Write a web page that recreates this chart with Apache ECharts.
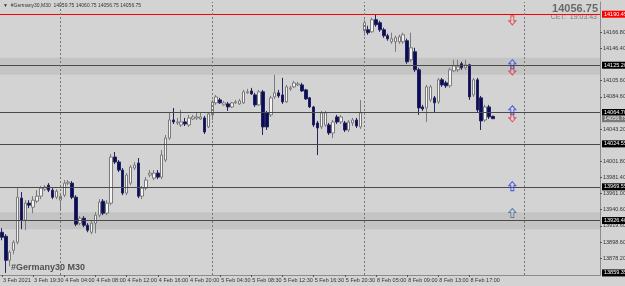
<!DOCTYPE html>
<html lang="en">
<head>
  <meta charset="UTF-8">
  <title>#Germany30,M30</title>
  <style>
    html, body {
      margin: 0;
      padding: 0;
      background-color: #d3d3d3;
    }
  </style>
  <script src="https://cdn.jsdelivr.net/npm/echarts@6.0.0/dist/echarts.min.js"></script>
</head>
<body>
<div id="chart" style="width: 625px; height: 286px;"></div>
<script>
  // M30 bars, [open, close, low, high]
  const candles = [
    [13911.4, 13905.0, 13901.2, 13916.6], [13906.3, 13875.5, 13859.35, 13908.9], [13875.5, 13885.8, 13867.8, 13888.3],
    [13888.3, 13898.6, 13883.2, 13901.2], [13898.6, 13956.3, 13896.0, 13967.9], [13955.1, 13926.8, 13915.3, 13962.8],
    [13926.8, 13948.7, 13914.0, 13952.5], [13948.7, 13946.1, 13942.2, 13952.5], [13943.5, 13952.5, 13935.8, 13957.6],
    [13951.2, 13957.6, 13948.7, 13965.3], [13957.6, 13967.9, 13953.8, 13970.5], [13966.6, 13969.2, 13964.0, 13971.7],
    [13971.7, 13965.3, 13962.8, 13974.3], [13965.3, 13956.3, 13953.8, 13967.9], [13956.3, 13964.0, 13953.8, 13966.6],
    [13952.5, 13957.6, 13939.7, 13961.5], [13958.9, 13974.3, 13956.3, 13978.2], [13974.3, 13975.6, 13971.7, 13978.2],
    [13974.3, 13956.3, 13953.8, 13976.9], [13956.3, 13921.7, 13919.1, 13958.9], [13923.0, 13929.4, 13920.4, 13932.0],
    [13929.4, 13920.4, 13917.9, 13932.0], [13920.4, 13914.0, 13911.4, 13923.0], [13911.4, 13923.0, 13908.9, 13925.6],
    [13923.0, 13933.3, 13910.2, 13937.1], [13933.3, 13949.9, 13930.7, 13953.8], [13951.2, 13935.8, 13933.3, 13953.8],
    [13935.8, 13948.7, 13933.3, 13952.5], [13948.7, 14007.7, 13946.1, 14011.5], [14007.7, 14001.3, 13998.7, 14014.1],
    [14001.3, 13991.0, 13988.4, 14003.8], [13991.0, 13961.5, 13958.9, 13993.6], [13961.5, 13984.6, 13958.9, 13987.1],
    [13974.3, 13994.8, 13971.7, 13997.4], [13993.6, 13997.4, 13991.0, 14001.3], [14000.0, 13957.6, 13955.1, 14006.4],
    [13957.6, 13967.9, 13953.8, 13970.5], [13967.9, 13978.2, 13965.3, 13982.0], [13984.6, 13987.1, 13982.0, 13991.0],
    [13980.7, 13987.1, 13978.2, 13991.0], [13987.1, 13982.0, 13979.4, 13991.0], [13982.0, 14010.2, 13979.4, 14016.6],
    [14003.8, 14032.0, 14001.3, 14035.9], [14032.0, 14055.1, 14029.5, 14065.4], [14055.1, 14052.6, 14050.0, 14070.5],
    [14051.3, 14052.6, 14048.7, 14057.7], [14048.7, 14052.6, 14046.2, 14068.0], [14052.6, 14050.0, 14047.4, 14057.7],
    [14048.7, 14057.7, 14046.2, 14061.6], [14056.4, 14059.0, 14055.1, 14061.6], [14057.7, 14059.0, 14055.1, 14065.4],
    [14056.4, 14059.0, 14055.1, 14064.1], [14057.7, 14039.7, 14037.2, 14060.3], [14046.2, 14062.8, 14044.9, 14065.4],
    [14061.6, 14078.2, 14055.1, 14080.8], [14077.0, 14084.6, 14074.4, 14087.2], [14080.8, 14077.0, 14075.7, 14083.4],
    [14074.4, 14077.0, 14073.1, 14079.5], [14075.7, 14071.8, 14066.7, 14078.2], [14071.8, 14077.0, 14070.5, 14078.2],
    [14077.0, 14078.2, 14075.7, 14080.8], [14075.7, 14079.5, 14074.4, 14082.1], [14077.0, 14091.1, 14075.7, 14093.6],
    [14089.8, 14091.1, 14088.5, 14094.9], [14092.3, 14088.5, 14087.2, 14096.2], [14087.2, 14074.4, 14071.8, 14089.8],
    [14074.4, 14091.1, 14073.1, 14093.6], [14091.1, 14046.2, 14035.9, 14093.6], [14064.1, 14046.2, 14042.3, 14066.7],
    [14061.6, 14083.4, 14059.0, 14085.9], [14084.6, 14089.8, 14082.1, 14112.9], [14089.8, 14085.9, 14083.4, 14093.6],
    [14087.2, 14078.2, 14075.7, 14109.0], [14078.2, 14097.5, 14077.0, 14100.0], [14094.9, 14096.2, 14092.3, 14098.8],
    [14097.5, 14102.6, 14096.2, 14105.2], [14100.0, 14101.3, 14098.8, 14103.9], [14100.0, 14092.3, 14091.1, 14102.6],
    [14093.6, 14082.1, 14080.8, 14094.9], [14083.4, 14071.8, 14070.5, 14084.6], [14071.8, 14048.7, 14046.2, 14073.1],
    [14051.3, 14044.9, 14010.2, 14053.9], [14046.2, 14064.1, 14043.6, 14066.7], [14048.7, 14064.1, 14046.2, 14066.7],
    [14048.7, 14038.5, 14035.9, 14051.3], [14038.5, 14052.6, 14032.0, 14055.1], [14059.0, 14052.6, 14050.0, 14061.6],
    [14052.6, 14059.0, 14050.0, 14061.6], [14051.3, 14042.3, 14039.7, 14053.9], [14042.3, 14052.6, 14039.7, 14055.1],
    [14051.3, 14055.1, 14047.4, 14057.7], [14055.1, 14047.4, 14044.9, 14057.7], [14046.2, 14064.1, 14043.6, 14080.8],
    [14169.3, 14179.6, 14162.9, 14183.4], [14170.6, 14166.8, 14164.2, 14175.7], [14168.0, 14183.4, 14166.8, 14186.0],
    [14183.4, 14177.0, 14174.5, 14189.9], [14179.6, 14170.6, 14168.0, 14182.2], [14170.6, 14162.9, 14160.3, 14173.2],
    [14162.9, 14159.1, 14156.5, 14165.5], [14155.2, 14159.1, 14152.6, 14166.8], [14155.2, 14160.3, 14142.4, 14162.9],
    [14155.2, 14161.6, 14152.6, 14164.2], [14155.2, 14164.2, 14152.6, 14166.8], [14156.5, 14129.6, 14127.0, 14159.1],
    [14132.1, 14147.5, 14129.6, 14166.8], [14142.4, 14119.3, 14116.7, 14147.5], [14119.3, 14070.5, 14061.6, 14121.9],
    [14071.8, 14069.3, 14066.7, 14074.4], [14070.5, 14097.5, 14052.6, 14100.0], [14080.8, 14097.5, 14078.2, 14100.0],
    [14083.4, 14077.0, 14065.4, 14085.9], [14078.2, 14106.5, 14075.7, 14109.0], [14106.5, 14100.0, 14097.5, 14109.0],
    [14102.6, 14098.8, 14096.2, 14105.2], [14098.8, 14119.3, 14096.2, 14121.9], [14118.0, 14124.4, 14116.7, 14132.1],
    [14119.3, 14123.1, 14116.7, 14132.1], [14127.0, 14121.9, 14119.3, 14129.6], [14121.9, 14125.7, 14119.3, 14132.1],
    [14125.7, 14084.6, 14080.8, 14127.0], [14087.2, 14106.5, 14084.6, 14109.0], [14106.5, 14068.0, 14065.4, 14109.0],
    [14083.4, 14053.9, 14042.3, 14085.9], [14055.1, 14071.8, 14052.6, 14074.4], [14071.8, 14059.0, 14056.4, 14074.4],
    [14059.75, 14056.75, 14056.75, 14060.75]
  ]

  // one time label every 8 bars
  const timeLabels = ['3 Feb 2021', '3 Feb 19:30', '4 Feb 04:00', '4 Feb 08:00', '4 Feb 12:00', '4 Feb 16:00',
    '4 Feb 20:00', '5 Feb 04:30', '5 Feb 08:30', '5 Feb 12:30', '5 Feb 16:30', '5 Feb 20:30',
    '8 Feb 05:00', '8 Feb 09:00', '8 Feb 13:00', '8 Feb 17:00']
  const priceTicks = [14166.80, 14146.40, 14105.60, 14084.60, 14043.20, 14001.80, 13981.40,
    13961.00, 13940.60, 13919.60, 13898.60, 13878.20]

  const levels = [14125.20, 14064.70, 14024.55, 13969.55, 13926.40]
  const alertLevel = 14190.45
  const bidPrice = 14056.75
  const lowPrice = 13859.35
  const zones = [[14134.7, 14113.0], [13937.1, 13915.3]]
  const daySeparators = [15, 54, 93, 134]
  const arrowsDown = [[131, 14182.5], [131, 14118.5], [131, 14058.5]]
  const arrowsUp = [[131, 14126.5], [131, 14067.5], [131, 13970.5]]
  const arrowsUpAlt = [[131, 13936.0]]
  const ohlcHeader = [14059.75, 14060.75, 14056.75, 14056.75]

  const slotCount = 154   // bars + empty space on the right
  const cats = Array.from({length: slotCount}, (_, i) => String(i))

  const upArrow = 'path://M3.5,0 L7,4 L5,4 L5,9 L2,9 L2,4 L0,4 Z'
  const downArrow = 'path://M2,0 L5,0 L5,5 L7,5 L3.5,9 L0,5 L2,5 Z'
  const fnt = 'Liberation Sans'

  function priceLabel (value, bg, fg) {
    return {
      show: true,
      position: 'end',
      distance: 2,
      formatter: value.toFixed(2),
      backgroundColor: bg,
      color: fg,
      fontFamily: fnt,
      fontSize: 5.5,
      padding: [1, 2, 0, 2]
    }
  }

  const lineItems = []
  lineItems.push({yAxis: alertLevel, lineStyle: {color: '#ff0000', width: 1, type: 'solid'}, label: priceLabel(alertLevel, '#ff0000', '#fff')})
  levels.forEach(v => {
    lineItems.push({yAxis: v, lineStyle: {color: '#4a4a4a', width: 1, type: 'solid'}, label: priceLabel(v, '#000', '#fff')})
  })
  lineItems.push({yAxis: bidPrice, lineStyle: {color: 'rgba(0,0,0,0)', width: 0}, label: priceLabel(bidPrice, '#7a7a7a', '#eee')})
  lineItems.push({yAxis: lowPrice, lineStyle: {color: 'rgba(0,0,0,0)', width: 0}, label: priceLabel(lowPrice, '#000', '#fff')})
  daySeparators.forEach(i => {
    lineItems.push({xAxis: i, lineStyle: {color: '#777', width: 1, type: [2, 2]}, label: {show: false}})
  })

  const dom = document.getElementById('chart')
  const chart = echarts.init(dom, null, {renderer: 'canvas'})
  const option = {
    backgroundColor: '#d3d3d3',
    animation: false,
    grid: {left: 0, right: 25, top: 2, bottom: 11, containLabel: false, outerBoundsMode: 'none',
      show: true, borderColor: '#8c8c8c', borderWidth: 0},
    xAxis: {
      type: 'category',
      data: cats,
      boundaryGap: true,
      axisLine: {show: true, lineStyle: {color: '#8c8c8c'}},
      axisTick: {
        show: true, alignWithLabel: true, length: 2,
        interval: idx => idx % 8 === 0 && idx / 8 < timeLabels.length,
        lineStyle: {color: '#555'}
      },
      axisLabel: {
        interval: 0,
        formatter: (v, idx) => (idx % 8 === 0 && timeLabels[idx / 8]) ? timeLabels[idx / 8] : '',
        align: 'left',
        margin: 2,
        padding: [0, 0, 0, 1],
        fontFamily: fnt,
        fontSize: 5.5,
        color: '#333'
      },
      splitLine: {show: false}
    },
    yAxis: {
      type: 'value',
      position: 'right',
      min: 13856.7,
      max: 14206.1,
      splitLine: {show: false},
      axisLine: {show: true, lineStyle: {color: '#8c8c8c'}},
      axisTick: {show: true, length: 2, customValues: priceTicks, lineStyle: {color: '#555'}},
      axisLabel: {
        customValues: priceTicks,
        formatter: v => v.toFixed(2),
        margin: 3,
        fontFamily: fnt,
        fontSize: 5.5,
        color: '#333'
      }
    },
    series: [
      {
        type: 'candlestick',
        data: candles,
        barWidth: 3,
        silent: true,
        itemStyle: {
          color: '#f4f4f4',
          color0: '#0b0b5c',
          borderColor: '#7a7a7a',
          borderColor0: '#23235e',
          borderWidth: 1
        },
        markArea: {
          silent: true,
          itemStyle: {color: 'rgba(0,0,0,0.065)'},
          data: zones.map(z => [{yAxis: z[0]}, {yAxis: z[1]}])
        },
        markLine: {
          silent: true,
          symbol: ['none', 'none'],
          animation: false,
          data: lineItems
        }
      },
      {
        type: 'scatter', data: arrowsDown, symbol: downArrow, symbolSize: [7, 9], silent: true,
        itemStyle: {color: 'rgba(0,0,0,0)', borderColor: '#e8302c', borderWidth: 1}
      },
      {
        type: 'scatter', data: arrowsUp, symbol: upArrow, symbolSize: [7, 9], silent: true,
        itemStyle: {color: 'rgba(0,0,0,0)', borderColor: '#2b3cf0', borderWidth: 1}
      },
      {
        type: 'scatter', data: arrowsUpAlt, symbol: upArrow, symbolSize: [7, 9], silent: true,
        itemStyle: {color: 'rgba(0,0,0,0)', borderColor: '#3f6f9a', borderWidth: 1}
      }
    ],
    graphic: [
      {
        type: 'text', left: 3, top: 3,
        style: {text: '▼  #Germany30,M30  ' + ohlcHeader.map(v => v.toFixed(2)).join(' '),
          fontFamily: fnt, fontSize: 5, fill: '#333'}
      },
      {
        type: 'text', right: 27, top: 3,
        style: {text: bidPrice.toFixed(2), fontFamily: fnt, fontSize: 11, fontWeight: 'bold', fill: '#6a6a6a'}
      },
      {
        type: 'text', right: 28, top: 14,
        style: {text: 'CET:  19:03:43', fontFamily: fnt, fontSize: 7, fill: '#7a7a7a'}
      },
      {
        type: 'text', left: 11, top: 263,
        style: {text: '#Germany30 M30', fontFamily: fnt, fontSize: 9, fontWeight: 'bold', fill: '#505050',
          textShadowColor: 'rgba(235,210,60,0.8)', textShadowOffsetX: -1, textShadowOffsetY: -1, textShadowBlur: 0}
      }
    ]
  }
  chart.setOption(option)
</script>
</body>
</html>
